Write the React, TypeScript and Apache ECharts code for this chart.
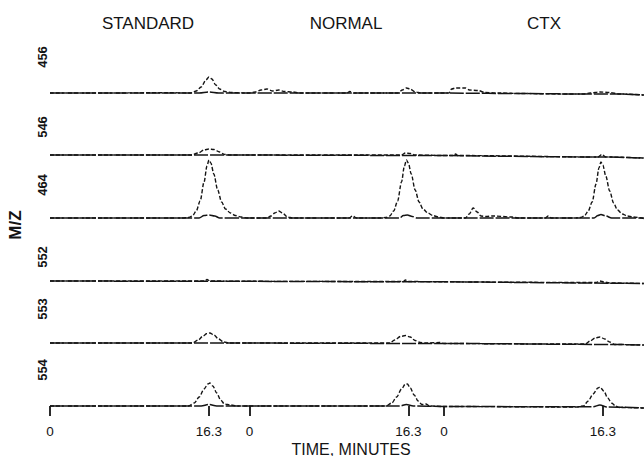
import React, { useEffect, useRef } from "react";
import * as echarts from "echarts";

// Column headings and axis text
const panelTitles = ["STANDARD", "NORMAL", "CTX"];
const rowLabels = ["456", "546", "464", "552", "553", "554"];
const tickTimes = [0, 16.3]; // minutes, labelled in each panel
const xTitle = "TIME, MINUTES";
const yTitle = "M/Z";

// Each point: [panel index, time in minutes within panel, signal height]
// Dashed traces (the peaks)
const mz456 = [
  [0, 0, 0], [0, 6, 0], [0, 12, 0.3], [0, 14.4, 0], [0, 15.0, 2], [0, 15.5, 6], [0, 16.0, 13], [0, 16.3, 16],
  [0, 16.6, 14], [0, 17.0, 8], [0, 17.4, 4], [0, 17.9, 1.5], [0, 18.6, 0.5], [0, 20.0, 0],
  [1, 0, 0], [1, 0.6, 1], [1, 1.2, 3], [1, 1.8, 4], [1, 2.4, 2], [1, 3.0, 3], [1, 3.6, 1.5], [1, 4.4, 1], [1, 5.2, 0],
  [1, 10.0, 0], [1, 10.3, 1.5], [1, 10.7, 0], [1, 15.2, 0], [1, 15.7, 3], [1, 16.1, 5], [1, 16.5, 4], [1, 17.0, 1],
  [1, 17.6, 0], [1, 19.5, 0],
  [2, 0, 0], [2, 0.5, 0], [2, 0.8, 4], [2, 1.2, 5], [2, 2.2, 5], [2, 2.6, 3], [2, 3.5, 2.5], [2, 4.2, 0.5], [2, 5.5, 0],
  [2, 8, -0.5], [2, 12, -1], [2, 14.3, -1], [2, 15, 0], [2, 16, 1], [2, 17, 0.5], [2, 18, -1], [2, 20.5, -2],
];
const mz546 = [
  [0, 0, 0], [0, 14.5, 0], [0, 15.2, 2], [0, 15.8, 5], [0, 16.3, 6], [0, 16.8, 5.5], [0, 17.4, 3], [0, 17.9, 0.5],
  [0, 18.5, 0], [0, 20.4, 0],
  [1, 0, 0], [1, 15.6, 0], [1, 16.0, 2], [1, 16.5, 1.5], [1, 17, 0], [1, 19.9, -0.5],
  [2, 0, -0.5], [2, 1.0, -0.5], [2, 1.2, 1], [2, 1.4, -0.5], [2, 15.8, -2], [2, 16.2, 0.5], [2, 16.6, -2], [2, 20.5, -3],
];
const mz464 = [
  [0, 0, 0], [0, 13.6, 0], [0, 14.2, 0.5], [0, 14.6, 2], [0, 15.0, 7], [0, 15.4, 17], [0, 15.8, 36], [0, 16.1, 52],
  [0, 16.3, 58], [0, 16.5, 55], [0, 16.8, 44], [0, 17.2, 28], [0, 17.6, 16], [0, 18.0, 9], [0, 18.5, 5], [0, 19.0, 2.5],
  [0, 19.6, 1], [0, 20.2, 0],
  [1, 0, 0], [1, 1.8, 0], [1, 2.2, 2], [1, 2.6, 5], [1, 3.0, 7], [1, 3.4, 5], [1, 3.9, 1], [1, 4.4, 0], [1, 10.2, 0],
  [1, 10.6, 2], [1, 11.0, 0], [1, 13.4, 0], [1, 14.0, 0.5], [1, 14.4, 2], [1, 14.8, 7], [1, 15.2, 17], [1, 15.6, 36],
  [1, 15.9, 52], [1, 16.1, 58], [1, 16.3, 55], [1, 16.6, 44], [1, 17.0, 28], [1, 17.4, 16], [1, 17.8, 9], [1, 18.3, 5],
  [1, 18.8, 2.5], [1, 19.4, 1], [1, 19.95, 0],
  [2, 0, 0], [2, 2.2, 0], [2, 2.6, 4], [2, 3.0, 10], [2, 3.4, 6], [2, 3.8, 2], [2, 4.3, 1.5], [2, 5.0, 2], [2, 7.0, 1],
  [2, 7.6, 0], [2, 10.4, 0], [2, 10.7, 2], [2, 11.0, 0], [2, 13.4, 0], [2, 14.0, 0.5], [2, 14.4, 2], [2, 14.8, 7],
  [2, 15.2, 16], [2, 15.6, 34], [2, 15.9, 50], [2, 16.1, 56], [2, 16.3, 53], [2, 16.6, 42], [2, 17.0, 27], [2, 17.4, 15],
  [2, 17.8, 8], [2, 18.3, 4], [2, 18.8, 2], [2, 19.4, 1], [2, 20.5, -0.5],
];
const mz552 = [
  [0, 0, 0], [0, 8, 0], [0, 15.9, 0], [0, 16.1, 1.5], [0, 16.4, 0], [0, 20.4, -0.3],
  [1, 0, -0.3], [1, 15.8, -0.5], [1, 16.0, 1], [1, 16.3, -0.5], [1, 19.9, -0.8],
  [2, 0, -0.8], [2, 15.6, -1.5], [2, 16.0, 0], [2, 16.4, -1], [2, 17, -2], [2, 20.5, -2.5],
];
const mz553 = [
  [0, 0, 0], [0, 14.6, 0], [0, 15.2, 3], [0, 15.7, 7], [0, 16.1, 9.5], [0, 16.4, 10], [0, 16.8, 8], [0, 17.3, 4],
  [0, 17.8, 1], [0, 18.4, 0], [0, 20.4, 0],
  [1, 0, 0], [1, 14.4, 0], [1, 14.9, 3], [1, 15.5, 6.5], [1, 16.0, 7.5], [1, 16.5, 6], [1, 17.0, 2.5], [1, 17.5, 0.5],
  [1, 18.2, 0], [1, 19.5, 0.5], [1, 19.95, -0.5],
  [2, 0, -0.5], [2, 10, -1], [2, 14.5, -1], [2, 15.0, 2], [2, 15.5, 5], [2, 16.0, 6], [2, 16.5, 4], [2, 17.0, 1],
  [2, 17.5, -1.5], [2, 20.5, -2],
];
const mz554 = [
  [0, 0, 0], [0, 14.2, 0], [0, 14.8, 3], [0, 15.3, 9], [0, 15.8, 17], [0, 16.2, 22], [0, 16.4, 23], [0, 16.7, 20],
  [0, 17.1, 13], [0, 17.5, 6], [0, 17.9, 2], [0, 18.5, 1], [0, 19.2, 0], [0, 20.4, 0],
  [1, 0, 0], [1, 14.0, 0], [1, 14.6, 3], [1, 15.1, 9], [1, 15.6, 17], [1, 16.0, 22], [1, 16.2, 22], [1, 16.5, 18],
  [1, 16.9, 11], [1, 17.3, 5], [1, 17.7, 1.5], [1, 18.1, 2], [1, 18.5, 0], [1, 19.95, -0.5],
  [2, 0, -0.5], [2, 13.6, -1], [2, 14.3, 0], [2, 14.8, 5], [2, 15.3, 12], [2, 15.8, 18], [2, 16.0, 19], [2, 16.4, 15],
  [2, 16.8, 8], [2, 17.2, 3], [2, 17.6, 0], [2, 18.0, -1.5], [2, 20.5, -2],
];
// Solid (second) traces: baseline with small inner bumps
const base456 = [
  [0, 0, 0], [0, 15.3, 0], [0, 16.3, 1], [0, 17.3, 0], [0, 20.4, 0], [1, 0, 0], [1, 19.9, 0],
  [2, 0, 0], [2, 8, -0.5], [2, 14, -1], [2, 18, -1], [2, 20.5, -2],
];
const base546 = [[0, 0, 0], [0, 20.4, 0], [1, 0, 0], [1, 19.9, -0.5], [2, 0, -0.5], [2, 16, -2], [2, 20.5, -3]];
const base464 = [
  [0, 0, 0], [0, 15.3, 0], [0, 15.8, 2.5], [0, 16.3, 3], [0, 16.9, 2], [0, 17.4, 0], [0, 20.4, 0],
  [1, 0, 0], [1, 15.4, 0], [1, 15.8, 2.5], [1, 16.2, 3], [1, 16.7, 1.5], [1, 17.2, 0], [1, 19.9, 0],
  [2, 0, 0], [2, 15.4, 0], [2, 15.8, 2.5], [2, 16.1, 3.5], [2, 16.6, 2], [2, 17.2, 0], [2, 20.5, 0],
];
const base552 = [[0, 0, 0], [0, 20.4, -0.3], [1, 0, -0.3], [1, 19.9, -0.8], [2, 0, -0.8], [2, 20.5, -2.5]];
const base553 = [[0, 0, 0], [0, 20.4, 0], [1, 0, 0], [1, 19.95, -0.5], [2, 0, -0.5], [2, 17.5, -1.5], [2, 20.5, -2]];
const base554 = [
  [0, 0, 0], [0, 15.5, 0], [0, 16.3, 1.5], [0, 17.1, 0], [0, 20.4, 0], [1, 0, 0], [1, 15.4, 0], [1, 16.1, 1.5],
  [1, 16.8, 0], [1, 19.95, -0.5], [2, 0, -0.5], [2, 15.3, -0.8], [2, 16.0, 1], [2, 16.7, -1], [2, 20.5, -2],
];
const rowTraces = [mz456, mz546, mz464, mz552, mz553, mz554];
const rowBaseTraces = [base456, base546, base464, base552, base553, base554];

// Layout (pixels / axis ranges)
const panelStart = [0, 20.45, 40.4];
const xMax = 60.92;
const rowBaseY = [93, 155, 218, 281, 343, 406];
const rowLabelY = [57, 127, 185, 257, 309, 370];
const titleX = [148, 346, 544];
const FONT = "'Liberation Sans', Arial, sans-serif";
const INK = "#141414";

const toXY = (pts: number[][]) => pts.map((p) => [panelStart[p[0]] + p[1], p[2]]);

export default function App() {
  const ref = useRef<HTMLDivElement>(null);
  useEffect(() => {
    if (!ref.current) return;
    const chart = echarts.init(ref.current, undefined, { renderer: "svg" });
    const H = 456;
    const grids = rowBaseY.map((b) => ({ left: 50, right: 0, bottom: H - (b + 4), height: 66, containLabel: false }));
    const tickVals: number[] = [];
    const tickText: Record<string, string> = {};
    panelStart.forEach((s) => tickTimes.forEach((t) => {
      const v = +(s + t).toFixed(3);
      tickVals.push(v);
      tickText[String(v)] = String(t);
    }));
    const xAxes = rowBaseY.map((_, i) => {
      const last = i === rowBaseY.length - 1;
      return {
        type: "value", gridIndex: i, min: 0, max: xMax, show: last, offset: 1,
        axisLine: { show: false }, splitLine: { show: false },
        axisTick: { show: last, customValues: tickVals, length: 10, lineStyle: { color: INK, width: 1.8 } },
        axisLabel: {
          show: last, customValues: tickVals, margin: 13, color: INK, fontSize: 13.5, fontFamily: FONT,
          formatter: (v: number) => tickText[String(+v.toFixed(3))] ?? "",
        },
      };
    });
    const yAxes = rowBaseY.map((_, i) => ({ type: "value", gridIndex: i, min: -4, max: 62, show: false }));
    const lineBase = { type: "line", symbol: "none", smooth: 0.3, smoothMonotone: "x", silent: true };
    const series: any[] = [];
    rowBaseTraces.forEach((tr, i) => series.push({
      ...lineBase, xAxisIndex: i, yAxisIndex: i, data: toXY(tr),
      lineStyle: { color: INK, width: 1.5, type: [14, 2] },
    }));
    rowTraces.forEach((tr, i) => series.push({
      ...lineBase, xAxisIndex: i, yAxisIndex: i, data: toXY(tr),
      lineStyle: { color: INK, width: 1.4, type: [4, 2] },
    }));
    const graphic: any[] = [];
    panelTitles.forEach((t, i) => graphic.push({
      type: "text", x: titleX[i], y: 23,
      style: { text: t, fill: INK, font: `17px ${FONT}`, align: "center", verticalAlign: "middle" },
    }));
    rowLabels.forEach((t, i) => graphic.push({
      type: "text", x: 42, y: rowLabelY[i], rotation: Math.PI / 2,
      style: { text: t, fill: INK, font: `bold 13px ${FONT}`, align: "center", verticalAlign: "middle" },
    }));
    graphic.push({
      type: "text", x: 15, y: 225, rotation: Math.PI / 2,
      style: { text: yTitle, fill: INK, font: `bold 17px ${FONT}`, align: "center", verticalAlign: "middle" },
    });
    graphic.push({
      type: "text", x: 351, y: 449,
      style: { text: xTitle, fill: INK, font: `16px ${FONT}`, align: "center", verticalAlign: "middle" },
    });
    chart.setOption({
      animation: false,
      backgroundColor: "#ffffff",
      grid: grids,
      xAxis: xAxes,
      yAxis: yAxes,
      series,
      graphic,
    });
    return () => chart.dispose();
  }, []);
  return <div ref={ref} style={{ position: "fixed", left: 0, top: 0, width: 644, height: 456 }} />;
}
